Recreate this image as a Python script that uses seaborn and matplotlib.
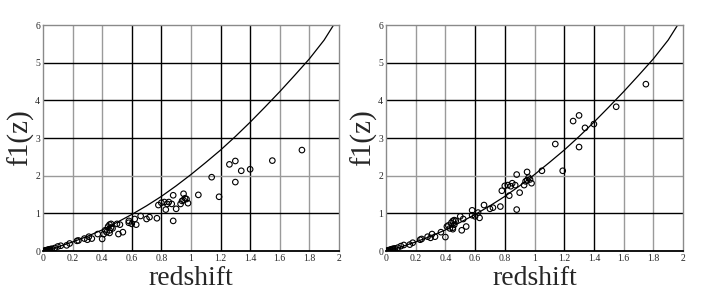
import matplotlib
matplotlib.use("Agg")
import matplotlib.pyplot as plt
import seaborn as sns
import pandas as pd

sns.set_style("white")
plt.rcParams['font.family'] = ['Liberation Serif', 'DejaVu Serif']

# redshift of each supernova (same set in both panels)
z_data = [1.75, 1.55, 1.40, 1.34, 1.30, 1.26, 1.30, 1.19, 1.14, 1.05,
          0.95, 0.96, 0.98, 0.94, 0.93, 0.95, 0.97,
          0.88, 0.88, 0.87, 0.90, 0.83, 0.85, 0.82, 0.80, 0.78, 0.84,
          0.77, 0.72, 0.70, 0.66, 0.63, 0.62,
          0.58, 0.58, 0.60, 0.54, 0.51, 0.52, 0.50,
          0.45, 0.44, 0.46, 0.45, 0.43, 0.41, 0.45, 0.47, 0.42, 0.46,
          0.40, 0.37, 0.33, 0.30, 0.31, 0.28, 0.24, 0.23, 0.18, 0.16,
          0.12, 0.10, 0.08, 0.06, 0.05, 0.045, 0.04, 0.035, 0.03, 0.025,
          0.02, 0.015, 0.01]

# left panel values
f_left = [2.68, 2.40, 2.17, 2.13, 2.39, 2.30, 1.83, 1.44, 1.96, 1.49,
          1.52, 1.40, 1.27, 1.33, 1.25, 1.35, 1.38,
          0.80, 1.48, 1.25, 1.12, 1.10, 1.30, 1.30, 1.28, 1.22, 1.25,
          0.87, 0.90, 0.85, 0.93, 0.70, 0.85,
          0.75, 0.80, 0.72, 0.50, 0.45, 0.70, 0.72,
          0.70, 0.65, 0.62, 0.55, 0.50, 0.45, 0.48, 0.60, 0.55, 0.72,
          0.32, 0.45, 0.33, 0.30, 0.38, 0.33, 0.28, 0.27, 0.20, 0.15,
          0.14, 0.12, 0.08, 0.06, 0.05, 0.04, 0.04, 0.03, 0.03, 0.02,
          0.02, 0.01, 0.01]

# right panel values
f_right = [4.43, 3.83, 3.37, 3.27, 3.60, 3.45, 2.76, 2.13, 2.84, 2.13,
           2.10, 1.95, 1.80, 1.85, 1.75, 1.88, 1.90,
           1.10, 2.03, 1.75, 1.55, 1.47, 1.80, 1.75, 1.73, 1.60, 1.72,
           1.18, 1.15, 1.12, 1.22, 0.88, 1.02,
           1.08, 0.95, 0.92, 0.65, 0.55, 0.85, 0.92,
           0.80, 0.75, 0.70, 0.62, 0.60, 0.65, 0.58, 0.80, 0.68, 0.82,
           0.37, 0.50, 0.38, 0.35, 0.45, 0.38, 0.32, 0.30, 0.22, 0.17,
           0.16, 0.13, 0.09, 0.07, 0.06, 0.05, 0.05, 0.04, 0.03, 0.03,
           0.02, 0.02, 0.01]

# model curve
z_curve = [0.0, 0.1, 0.2, 0.3, 0.4, 0.5, 0.6, 0.7, 0.8, 0.9, 1.0,
           1.1, 1.2, 1.3, 1.4, 1.5, 1.6, 1.7, 1.8, 1.9, 1.98]
f_curve = [0.0, 0.11, 0.24, 0.39, 0.56, 0.76, 0.97, 1.20, 1.45, 1.73, 2.03,
           2.35, 2.68, 3.04, 3.42, 3.82, 4.23, 4.66, 5.10, 5.60, 6.10]

x_ticks = [0, 0.2, 0.4, 0.6, 0.8, 1, 1.2, 1.4, 1.6, 1.8, 2]
x_labels = ["0", "0.2", "0.4", "0.6", "0.8", "1", "1.2", "1.4", "1.6", "1.8", "2"]
y_ticks = [0, 1, 2, 3, 4, 5, 6]

# grid line shades as they appear in the scan
dark_x = [0.6, 0.8, 1.2, 1.4]
dark_y = [1, 3, 4, 5]


def draw_panel(ax, f_vals):
    for xv in x_ticks[1:-1]:
        ax.axvline(xv, color='black' if xv in dark_x else '#9a9a9a', lw=1.0, zorder=0)
    for yv in y_ticks[1:-1]:
        ax.axhline(yv, color='black' if yv in dark_y else '#9a9a9a', lw=1.0, zorder=0)

    curve = pd.DataFrame({'z': z_curve, 'f': f_curve})
    sns.lineplot(data=curve, x='z', y='f', color='black', lw=0.9, ax=ax, zorder=2)

    pts = pd.DataFrame({'z': z_data, 'f': f_vals})
    sns.scatterplot(data=pts, x='z', y='f', s=16, facecolor='none',
                    edgecolor='black', linewidth=0.8, ax=ax, zorder=3)

    ax.set_xlim(0, 2)
    ax.set_ylim(0, 6)
    ax.set_xticks(x_ticks)
    ax.set_xticklabels(x_labels)
    ax.set_yticks(y_ticks)
    ax.tick_params(labelsize=7, length=0, pad=2)
    for side in ['top', 'right', 'left']:
        ax.spines[side].set_color('#8a8a8a')
        ax.spines[side].set_linewidth(1.0)
    ax.spines['bottom'].set_color('black')
    ax.spines['bottom'].set_linewidth(1.3)
    ax.set_xlabel("redshift", fontsize=20, labelpad=2)
    ax.set_ylabel("f1(z)", fontsize=21, labelpad=1)


fig = plt.figure(figsize=(7.08, 3.0), dpi=100)
ax1 = fig.add_axes([0.0607, 0.1633, 0.418, 0.7533])
ax2 = fig.add_axes([0.5452, 0.1633, 0.4195, 0.7533])
draw_panel(ax1, f_left)
draw_panel(ax2, f_right)

fig.savefig("out.png", dpi=100)
